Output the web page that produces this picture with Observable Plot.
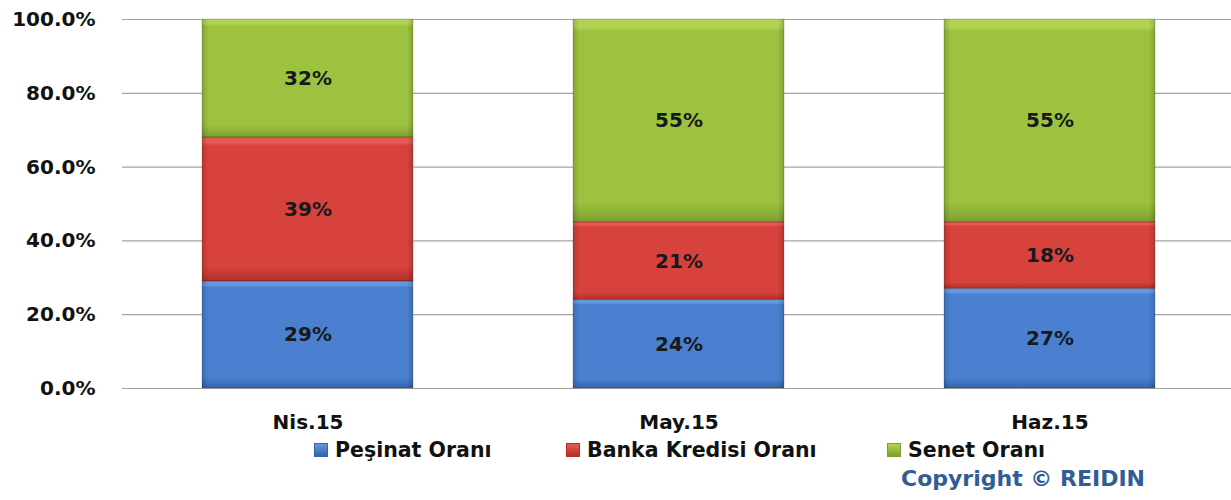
<!DOCTYPE html>
<html>
<head>
<meta charset="utf-8">
<script src="https://cdn.jsdelivr.net/npm/d3@7"></script>
<script src="https://cdn.jsdelivr.net/npm/@observablehq/plot@0.6"></script>
<style>
  html, body { margin: 0; padding: 0; background: #fff; overflow: hidden; }
  body { width: 1231px; height: 500px; font-family: "DejaVu Sans", sans-serif; font-weight: bold; }
  #legend { position: relative; height: 28px; margin-top: -4px; font-size: 20.5px; color: #111; }
  .item { position: absolute; top: 0; display: flex; align-items: center; height: 28px; white-space: nowrap; }
  .sw { width: 14px; height: 14px; margin-right: 7px; box-sizing: border-box; }
  #copy { position: relative; height: 30px; margin-top: 0px; font-size: 22px; color: #2f5d96; }
  #copy span { position: absolute; left: 901px; top: 0; line-height: 30px; white-space: nowrap; }
</style>
</head>
<body>
<div id="chart"></div>
<div id="legend"></div>
<div id="copy"><span>Copyright © REIDIN</span></div>
<script>
const months = ["Nis.15", "May.15", "Haz.15"];
const series = ["Peşinat Oranı", "Banka Kredisi Oranı", "Senet Oranı"];
const pesinat = [29, 24, 27];
const bankaKredisi = [39, 21, 18];
const senet = [32, 55, 55];
const yTicks = [0, 20, 40, 60, 80, 100];

const colorsLight = ["#6298e0", "#e65a54", "#b0d452"];
const colorsMid = ["#4a80cf", "#d8423c", "#9cc23f"];
const colorsDark = ["#3565a8", "#b32f2a", "#7f9f30"];
const gradIds = ["gBlue", "gRed", "gGreen"];

const values = [pesinat, bankaKredisi, senet];
const data = [];
months.forEach((m, i) => {
  series.forEach((s, j) => {
    data.push({month: m, series: s, value: values[j][i]});
  });
});

const chart = Plot.plot({
  width: 1231,
  height: 440,
  marginTop: 19,
  marginBottom: 52,
  marginLeft: 122,
  marginRight: 0,
  style: {fontFamily: "DejaVu Sans", fontWeight: "bold", fontSize: "20px", color: "#111", background: "#fff"},
  x: {domain: months, range: [122, 1236], paddingInner: 0.43, paddingOuter: 0.215, label: null, tickSize: 0, tickPadding: 26},
  y: {domain: [0, 100], ticks: yTicks, tickFormat: d => d.toFixed(1) + "%", label: null, tickSize: 0, tickPadding: 27},
  color: {domain: series, range: gradIds.map(id => `url(#${id})`)},
  marks: [
    Plot.ruleY(yTicks, {stroke: "#a3a3a3", strokeWidth: 1.2}),
    Plot.barY(data, Plot.stackY({x: "month", y: "value", fill: "series", order: null})),
    Plot.barY(data, Plot.stackY({x: "month", y: "value", fill: "url(#edge)", order: null, stroke: "rgba(0,0,0,0.18)", strokeWidth: 1})),
    Plot.text(data, Plot.stackY({x: "month", y: "value", text: d => d.value + "%", fill: "#151a1c", order: null, fontSize: 20, fontWeight: "bold"}))
  ]
});

// gradients
const ns = "http://www.w3.org/2000/svg";
const defs = document.createElementNS(ns, "defs");
gradIds.forEach((id, j) => {
  const g = document.createElementNS(ns, "linearGradient");
  g.setAttribute("id", id);
  g.setAttribute("x1", "0"); g.setAttribute("y1", "0");
  g.setAttribute("x2", "0"); g.setAttribute("y2", "1");
  [[0, colorsLight[j]], [0.04, colorsLight[j]], [0.06, colorsMid[j]], [0.9, colorsMid[j]], [1, colorsDark[j]]].forEach(([o, c]) => {
    const st = document.createElementNS(ns, "stop");
    st.setAttribute("offset", o); st.setAttribute("stop-color", c);
    g.appendChild(st);
  });
  defs.appendChild(g);
});
const eg = document.createElementNS(ns, "linearGradient");
eg.setAttribute("id", "edge");
eg.setAttribute("x1", "0"); eg.setAttribute("y1", "0");
eg.setAttribute("x2", "1"); eg.setAttribute("y2", "0");
[[0, 0.16], [0.03, 0], [0.97, 0], [1, 0.16]].forEach(([o, a]) => {
  const st = document.createElementNS(ns, "stop");
  st.setAttribute("offset", o);
  st.setAttribute("stop-color", "#000");
  st.setAttribute("stop-opacity", a);
  eg.appendChild(st);
});
defs.appendChild(eg);
chart.insertBefore(defs, chart.firstChild);
document.getElementById("chart").appendChild(chart);

// legend
const legendLeft = [314, 566, 887];
const legend = document.getElementById("legend");
series.forEach((s, j) => {
  const item = document.createElement("div");
  item.className = "item";
  item.style.left = legendLeft[j] + "px";
  const sw = document.createElement("div");
  sw.className = "sw";
  sw.style.background = `linear-gradient(${colorsLight[j]}, ${colorsDark[j]})`;
  sw.style.border = `1px solid ${colorsDark[j]}`;
  const t = document.createElement("span");
  t.textContent = s;
  item.appendChild(sw);
  item.appendChild(t);
  legend.appendChild(item);
});
</script>
</body>
</html>
